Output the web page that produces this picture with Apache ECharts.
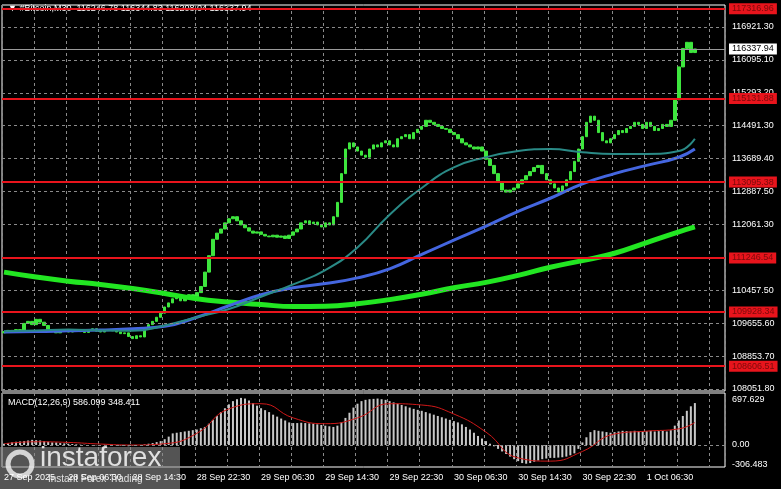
<!DOCTYPE html>
<html>
<head>
<meta charset="utf-8">
<script src="https://cdn.jsdelivr.net/npm/echarts@6/dist/echarts.min.js"></script>
<style>html,body{margin:0;padding:0;background:#000;}#chart{width:781px;height:489px;}</style>
</head>
<body>
<div id="chart"></div>
<script>
// closes of each M30 bar
const closes = [
    109450, 109480, 109430, 109500, 109470,
    109650, 109700, 109620, 109750, 109680, 109600,
    109500, 109450, 109420, 109480, 109460, 109440, 109470, 109500, 109450, 109430, 109480, 109520, 109460, 109440, 109480, 109500, 109470, 109440, 109400, 109420,
    109330, 109280, 109350, 109320,
    109550, 109620, 109700, 109800, 109900, 110050, 110150, 110250, 110300, 110200, 110280, 110350, 110300, 110400, 110550,
    110900, 111300, 111700, 111850, 111950,
    112100, 112200, 112250, 112150, 112050, 111980,
    111900, 111850, 111880, 111820, 111780, 111760, 111800, 111750, 111780, 111720, 111800, 111880, 111950,
    112100, 112150, 112080, 112120, 112050, 112000, 112100, 112050, 112250, 112600,
    113300, 113900, 114050,
    113950, 113850, 113750, 113700, 113900, 114000, 113950, 114050, 114100, 114000, 113950,
    114150, 114200, 114250, 114150, 114300, 114380, 114450, 114600, 114550,
    114500, 114450, 114400, 114380, 114300, 114250, 114150, 114050, 114000, 113950, 113900, 113950,
    113850, 113650, 113500, 113300, 113100, 112900,
    112850, 112900, 112950, 113050, 113150, 113250, 113350, 113450, 113500, 113300,
    113150, 113050, 112950, 112850, 113000, 113150, 113350, 113600, 113900,
    114200, 114550, 114700, 114600,
    114300, 114100, 114050, 114150, 114250, 114350, 114300, 114400, 114450, 114550, 114500, 114400, 114550, 114450, 114350, 114400, 114500, 114450,
    114600, 115100, 115900, 116350, 116500, 116250, 116337.94
];
const firstOpen = 109420;

// moving averages, sampled every 8 bars
const maIdx = [0, 8, 16, 24, 32, 40, 48, 56, 64, 72, 80, 88, 96, 104, 112, 120, 128, 136, 144, 152, 160, 168, 172];
const maSlow = [110900, 110780, 110680, 110600, 110500, 110380, 110250, 110170, 110110, 110060, 110070, 110130, 110230, 110360, 110520, 110650, 110820, 111020, 111180, 111360, 111620, 111880, 112000];
const maMid = [109440, 109450, 109470, 109490, 109520, 109580, 109800, 110080, 110350, 110520, 110620, 110760, 110980, 111330, 111680, 112020, 112380, 112700, 113050, 113300, 113500, 113700, 113900];
const maFast = [109460, 109480, 109500, 109480, 109470, 109600, 109800, 110000, 110300, 110600, 110950, 111500, 112300, 112950, 113450, 113700, 113850, 113900, 113820, 113780, 113780, 113850, 114150];

// MACD histogram per bar and signal line every 8 bars
const macdHist = [
    20, 30, 40, 50, 55,
    60, 70, 80, 75, 70, 60,
    50, 40, 40, 30, 25, 20, 15, 10,
    5, 5, 0, -5, -5, 0, 5, 5, 0, -5, -10, -15, -20, -10, -5, 0, 10, 20,
    30, 45, 60, 90, 130,
    180, 190, 200, 210, 220, 230, 240, 260,
    280, 330, 390, 450, 510,
    570, 630, 680, 710, 730, 720,
    690, 650, 610, 570, 540, 510,
    470, 440, 410, 380, 350, 340,
    340, 345, 340, 335, 330, 320, 310, 300, 290, 280,
    300, 350, 420, 500, 580,
    640, 680, 700, 710, 715, 720, 710, 700,
    680, 660, 640, 620, 600, 580, 560, 545,
    530, 510, 490, 470, 450, 430, 410,
    390, 370, 350, 320, 280, 240, 190,
    140, 100, 60, 20, -20, -60,
    -100, -140, -180, -220, -250, -280, -290,
    -280, -260, -240, -220, -210, -200,
    -200, -195, -190, -180, -160, -130,
    -60, 40, 120, 200, 230, 220,
    210, 200, 190, 200, 210, 220, 215, 210, 220, 215, 210, 215, 220, 210, 215, 220, 210,
    230, 300, 380, 450, 530, 600, 650
];
const signalVals = [20, 50, 40, 15, 0, 20, 180, 560, 640, 420, 330, 420, 640, 620, 480, 200, -200, -250, -100, 170, 215, 250, 348.411];

const priceTicks = [108051.80, 108853.70, 109655.60, 110457.50, 111259.40, 112061.30, 112863.20, 113665.10, 114467.00, 115268.90, 116070.80, 116872.70];
const priceTickLabels = ['108051.80', '108853.70', '109655.60', '110457.50', '', '112061.30', '112887.50', '113689.40', '114491.30', '115293.20', '116095.10', '116921.30'];
const levels = [117316.96, 115131.88, 113095.38, 111246.54, 109928.34, 108606.51];
const lastPrice = 116337.94;
const macdTicks = [697.629, 0, -306.483];
const macdTickLabels = ['697.629', '0.00', '-306.483'];
const timeLabels = ['27 Sep 2025', '28 Sep 06:30', '28 Sep 14:30', '28 Sep 22:30', '29 Sep 06:30', '29 Sep 14:30', '29 Sep 22:30', '30 Sep 06:30', '30 Sep 14:30', '30 Sep 22:30', '1 Oct 06:30'];

const nBars = 180;
const cats = [];
for (let i = 0; i < nBars; i++) cats.push(i);

const candles = closes.map((c, i) => {
    const o = i === 0 ? firstOpen : closes[i - 1];
    return [o, c, Math.min(o, c), Math.max(o, c)];
});
function sparseLine(vals) {
    const arr = new Array(closes.length).fill(null);
    maIdx.forEach((idx, k) => { arr[idx] = vals[k]; });
    return arr;
}

const fontFam = 'Liberation Sans';
const gridLine = { show: true, interval: (i) => i % 8 === 0, lineStyle: { color: '#8a8a8a', type: [3, 3], width: 1 } };

let chart = echarts.init(document.getElementById('chart'));
chart.setOption({
    backgroundColor: '#000',
    animation: false,
    textStyle: { fontFamily: fontFam },
    grid: [
        { left: 2, top: 5, width: 723, height: 386, show: true, borderColor: '#fff', borderWidth: 1 },
        { left: 2, top: 393, width: 723, height: 74, show: true, borderColor: '#fff', borderWidth: 1 }
    ],
    xAxis: [
        { type: 'category', gridIndex: 0, data: cats, boundaryGap: true, axisLine: { show: false }, axisTick: { show: false }, axisLabel: { show: false }, splitLine: gridLine },
        {
            type: 'category', gridIndex: 1, data: cats, boundaryGap: true, axisLine: { show: false }, axisTick: { show: false }, splitLine: gridLine,
            axisLabel: {
                interval: (i) => i % 16 === 0, align: 'left', margin: 6, color: '#fff', fontSize: 9, fontFamily: fontFam,
                formatter: (v, i) => timeLabels[i / 16] || ''
            }
        }
    ],
    yAxis: [
        { type: 'value', gridIndex: 0, min: 108003, max: 117409, axisLine: { show: false }, axisTick: { show: false }, axisLabel: { show: false }, splitLine: { show: false } },
        { type: 'value', gridIndex: 1, min: -341, max: 806, axisLine: { show: false }, axisTick: { show: false }, axisLabel: { show: false }, splitLine: { show: false } }
    ],
    series: [
        {
            type: 'candlestick', xAxisIndex: 0, yAxisIndex: 0, data: candles, barWidth: 3,
            itemStyle: { color: '#3ee63e', color0: '#3ee63e', borderColor: '#3ee63e', borderColor0: '#3ee63e', borderWidth: 1 },
            markLine: {
                silent: true, symbol: 'none', z: 10,
                lineStyle: { color: '#e8141c', width: 2, type: 'solid' },
                label: { position: 'end', distance: 4, formatter: (p) => p.value.toFixed(2), color: '#7a0a0a', backgroundColor: '#e8141c', fontSize: 9, fontFamily: fontFam, padding: [1, 3, 1, 3] },
                data: levels.map(v => ({ yAxis: v }))
            }
        },
        {
            type: 'line', xAxisIndex: 0, yAxisIndex: 0, data: sparseLine(maSlow), connectNulls: true, showSymbol: false, smooth: true,
            lineStyle: { color: '#22e622', width: 5 },
            markLine: {
                silent: true, symbol: 'none',
                lineStyle: { color: '#8a8a8a', width: 1, type: [3, 3] },
                label: { position: 'end', distance: 7, color: '#fff', fontSize: 9, fontFamily: fontFam, formatter: (p) => priceTickLabels[p.dataIndex] },
                data: priceTicks.map(v => ({ yAxis: v }))
            }
        },
        {
            type: 'line', xAxisIndex: 0, yAxisIndex: 0, data: sparseLine(maMid), connectNulls: true, showSymbol: false, smooth: true,
            lineStyle: { color: '#4466e0', width: 3 },
            markLine: {
                silent: true, symbol: 'none',
                lineStyle: { color: '#9a9a9a', width: 1, type: 'solid' },
                label: { position: 'end', distance: 4, color: '#000', backgroundColor: '#fff', fontSize: 9, fontFamily: fontFam, padding: [1, 3, 1, 3], formatter: (p) => p.value.toFixed(2) },
                data: [{ yAxis: lastPrice }]
            }
        },
        {
            type: 'line', xAxisIndex: 0, yAxisIndex: 0, data: sparseLine(maFast), connectNulls: true, showSymbol: false, smooth: true,
            lineStyle: { color: '#2a8a86', width: 2 }
        },
        {
            type: 'bar', xAxisIndex: 1, yAxisIndex: 1, data: macdHist, barWidth: 2,
            itemStyle: { color: '#c8c8c8' },
            markLine: {
                silent: true, symbol: 'none',
                lineStyle: { color: '#8a8a8a', type: [3, 3], width: 1 },
                label: { position: 'end', distance: 7, color: '#fff', fontSize: 9, fontFamily: fontFam, formatter: (p) => macdTickLabels[p.dataIndex] },
                data: macdTicks.map((v, k) => ({ yAxis: v, lineStyle: k === 1 ? {} : { color: 'rgba(0,0,0,0)' } }))
            }
        },
        {
            type: 'line', xAxisIndex: 1, yAxisIndex: 1, data: sparseLine(signalVals), connectNulls: true, showSymbol: false, smooth: true,
            lineStyle: { color: '#d01818', width: 1 }
        }
    ],
    graphic: [
        { type: 'text', left: 8, top: 4, style: { text: '▼ #Bitcoin,M30  116246.78 116344.83 116208.04 116337.94', fill: '#fff', font: '9px Liberation Sans' } },
        { type: 'text', left: 8, top: 398, style: { text: 'MACD(12,26,9) 586.099 348.411', fill: '#fff', font: '9px Liberation Sans' } },
        { type: 'rect', left: 0, top: 447, shape: { width: 180, height: 42 }, style: { fill: 'rgba(140,140,140,0.6)' } },
        { type: 'circle', shape: { cx: 20, cy: 464, r: 12 }, style: { fill: 'none', stroke: 'rgba(235,235,235,0.85)', lineWidth: 5 } },
        { type: 'text', left: 40, top: 444, style: { text: 'instaforex', fill: 'rgba(240,240,240,0.9)', font: '28px Liberation Sans' } },
        { type: 'text', left: 48, top: 474, style: { text: 'Instant Forex Trading', fill: 'rgba(240,240,240,0.9)', font: '10px Liberation Sans' } }
    ]
});
</script>
</body>
</html>
